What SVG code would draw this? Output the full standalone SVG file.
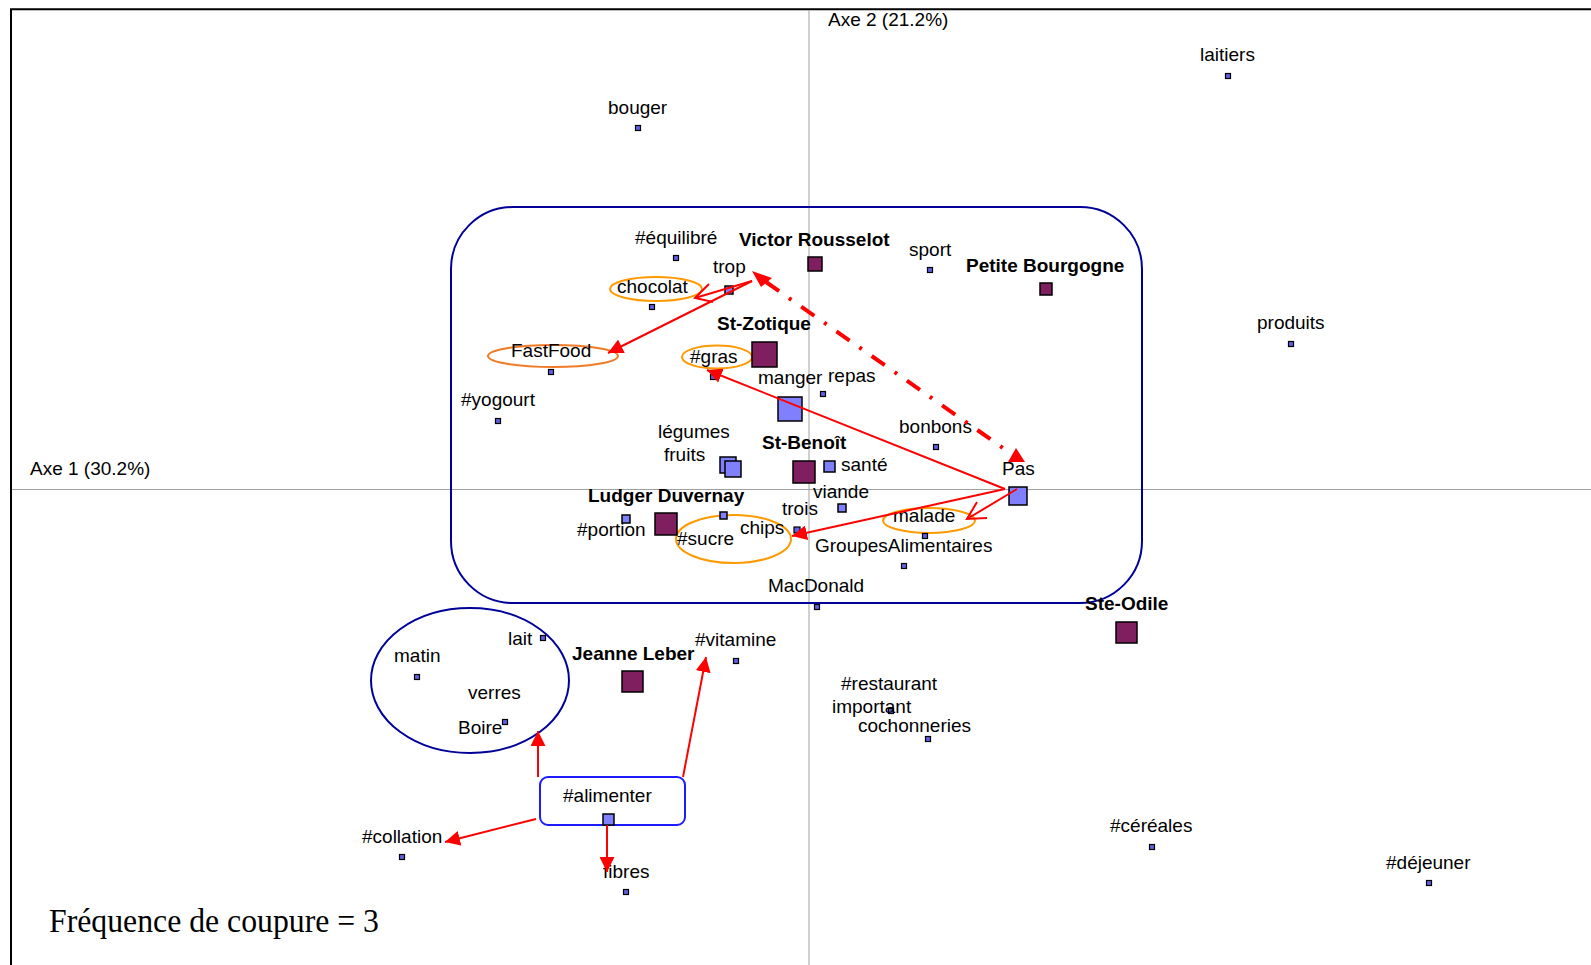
<svg xmlns="http://www.w3.org/2000/svg" width="1591" height="965" viewBox="0 0 1591 965">
<defs>
<style>
.lbl{font-family:"Liberation Sans",Arial,sans-serif;font-size:19px;fill:#000}
.b{font-weight:bold}
.dot{fill:#6060e0;stroke:#000;stroke-width:1.2}
.sq{fill:#8080ff;stroke:#000;stroke-width:1.5}
.pu{fill:#7f1f5f;stroke:#000;stroke-width:1.5}
.arr{stroke:#ff0000;stroke-width:2;fill:none}
.ov{fill:none;stroke:#ff9900;stroke-width:2}
.cl{fill:none;stroke:#000099;stroke-width:2}
.axis{stroke:#a0a0a0;stroke-width:1;fill:none}
</style>
<marker id="ah" markerUnits="userSpaceOnUse" markerWidth="16" markerHeight="15" refX="15" refY="7.5" orient="auto">
<path d="M0,0 L15,7.5 L0,15 z" fill="#ff0000"/>
</marker>
</defs>
<rect width="1591" height="965" fill="#fff"/>
<path d="M11,965 V9.3 H1591" fill="none" stroke="#000" stroke-width="2"/>
<g id="axes">
<line class="axis" x1="809" y1="10" x2="809" y2="965"/>
<line class="axis" x1="12" y1="489.5" x2="1591" y2="489.5"/>
<text class="lbl" x="828" y="26">Axe 2 (21.2%)</text>
<text class="lbl" x="30" y="475">Axe 1 (30.2%)</text>
</g>
<g id="clusters">
<rect id="cluster-main" class="cl" x="451" y="207" width="691" height="396" rx="62" ry="62"/>
<ellipse id="cluster-boire" class="cl" cx="470" cy="680.5" rx="99" ry="72.5"/>
<ellipse id="hl-chocolat" class="ov" cx="656" cy="289" rx="46" ry="12"/>
<ellipse id="hl-fastfood" class="ov" cx="553" cy="356" rx="65" ry="11" style="stroke:#f07a25"/>
<ellipse id="hl-gras" class="ov" cx="717" cy="357" rx="35" ry="11.5"/>
<ellipse id="hl-sucre" class="ov" cx="733.5" cy="539" rx="57.5" ry="24"/>
<ellipse id="hl-malade" class="ov" cx="929" cy="520.5" rx="46" ry="12.5"/>
</g>
<g id="nodes">
<g id="n-laitiers"><rect class="dot" x="1225.5" y="73.5" width="5" height="5"/><text class="lbl" x="1200" y="61">laitiers</text></g>
<g id="n-bouger"><rect class="dot" x="635.5" y="125.5" width="5" height="5"/><text class="lbl" x="608" y="114">bouger</text></g>
<g id="n-equilibre"><rect class="dot" x="673.5" y="255.5" width="5" height="5"/><text class="lbl" x="635" y="244">#équilibré</text></g>
<g id="n-victor"><rect class="pu" x="808" y="257" width="14" height="14"/><text class="lbl b" x="739" y="246">Victor Rousselot</text></g>
<g id="n-sport"><rect class="dot" x="927.5" y="267.5" width="5" height="5"/><text class="lbl" x="909" y="256">sport</text></g>
<g id="n-petite"><rect class="pu" x="1040" y="283" width="12" height="12"/><text class="lbl b" x="966" y="272">Petite Bourgogne</text></g>
<g id="n-trop"><rect class="sq" x="725" y="286" width="8" height="8"/><text class="lbl" x="713" y="273">trop</text></g>
<g id="n-chocolat"><rect class="dot" x="649.5" y="304.5" width="5" height="5"/><text class="lbl" x="617" y="293">chocolat</text></g>
<g id="n-produits"><rect class="dot" x="1288.5" y="341.5" width="5" height="5"/><text class="lbl" x="1257" y="329">produits</text></g>
<g id="n-stzotique"><rect class="pu" x="752" y="342" width="25" height="25"/><text class="lbl b" x="717" y="330">St-Zotique</text></g>
<g id="n-fastfood"><rect class="dot" x="548.5" y="369.5" width="5" height="5"/><text class="lbl" x="511" y="357">FastFood</text></g>
<g id="n-gras"><rect class="dot" x="710.5" y="374.5" width="5" height="5"/><text class="lbl" x="690" y="363">#gras</text></g>
<g id="n-manger"><rect class="sq" x="778" y="397" width="24" height="24"/><text class="lbl" x="758" y="384">manger</text></g>
<g id="n-repas"><rect class="dot" x="820.5" y="391.5" width="5" height="5"/><text class="lbl" x="828" y="382">repas</text></g>
<g id="n-yogourt"><rect class="dot" x="495.5" y="418.5" width="5" height="5"/><text class="lbl" x="461" y="406">#yogourt</text></g>
<g id="n-bonbons"><rect class="dot" x="933.5" y="444.5" width="5" height="5"/><text class="lbl" x="899" y="433">bonbons</text></g>
<g id="n-legumes"><rect class="sq" x="720" y="457" width="16" height="16"/><text class="lbl" x="658" y="438">légumes</text></g>
<g id="n-fruits"><rect class="sq" x="725" y="461" width="16" height="16"/><text class="lbl" x="664" y="461">fruits</text></g>
<g id="n-stbenoit"><rect class="pu" x="793" y="461" width="22" height="22"/><text class="lbl b" x="762" y="449">St-Benoît</text></g>
<g id="n-sante"><rect class="sq" x="824" y="461" width="11" height="11"/><text class="lbl" x="841" y="471">santé</text></g>
<g id="n-pas"><rect class="sq" x="1009" y="487" width="18" height="18"/><text class="lbl" x="1002" y="475">Pas</text></g>
<g id="n-viande"><rect class="sq" x="838" y="504" width="8" height="8"/><text class="lbl" x="813" y="498">viande</text></g>
<g id="n-ludger"><rect class="pu" x="655" y="513" width="22" height="22"/><text class="lbl b" x="588" y="502">Ludger Duvernay</text></g>
<g id="n-trois"><text class="lbl" x="782" y="515">trois</text></g>
<g id="n-malade"><rect class="dot" x="922.5" y="533.5" width="5" height="5"/><text class="lbl" x="893" y="522">malade</text></g>
<g id="n-chips"><rect class="dot" x="794" y="527" width="6" height="6"/><text class="lbl" x="740" y="534">chips</text></g>
<g id="n-portion"><rect class="sq" x="622" y="515" width="8" height="8"/><text class="lbl" x="577" y="536">#portion</text></g>
<g id="n-sucre"><rect class="sq" x="720" y="512" width="7" height="7"/><text class="lbl" x="677" y="545">#sucre</text></g>
<g id="n-groupes"><rect class="dot" x="901.5" y="563.5" width="5" height="5"/><text class="lbl" x="815" y="552">GroupesAlimentaires</text></g>
<g id="n-macdonald"><rect class="dot" x="814.5" y="604.5" width="5" height="5"/><text class="lbl" x="768" y="592">MacDonald</text></g>
<g id="n-steodile"><rect class="pu" x="1116" y="622" width="21" height="21"/><text class="lbl b" x="1085" y="610">Ste-Odile</text></g>
<g id="n-lait"><rect class="dot" x="540.5" y="635.5" width="5" height="5"/><text class="lbl" x="508" y="645">lait</text></g>
<g id="n-vitamine"><rect class="dot" x="733.5" y="658.5" width="5" height="5"/><text class="lbl" x="695" y="646">#vitamine</text></g>
<g id="n-jeanne"><rect class="pu" x="622" y="671" width="21" height="21"/><text class="lbl b" x="572" y="660">Jeanne Leber</text></g>
<g id="n-matin"><rect class="dot" x="414.5" y="674.5" width="5" height="5"/><text class="lbl" x="394" y="662">matin</text></g>
<g id="n-restaurant"><text class="lbl" x="841" y="690">#restaurant</text></g>
<g id="n-verres"><text class="lbl" x="468" y="699">verres</text></g>
<g id="n-important"><rect class="dot" x="888.5" y="708.5" width="5" height="5"/><text class="lbl" x="832" y="713">important</text></g>
<g id="n-cochonneries"><rect class="dot" x="925.5" y="736.5" width="5" height="5"/><text class="lbl" x="858" y="732">cochonneries</text></g>
<g id="n-boire"><rect class="dot" x="502.5" y="719.5" width="5" height="5"/><text class="lbl" x="458" y="734">Boire</text></g>
<g id="n-alimenter"><rect x="540" y="777" width="145" height="48" rx="8" ry="8" fill="none" stroke="#1c1cff" stroke-width="2"/><rect class="sq" x="603" y="814" width="11" height="11"/><text class="lbl" x="563" y="802">#alimenter</text></g>
<g id="n-cereales"><rect class="dot" x="1149.5" y="844.5" width="5" height="5"/><text class="lbl" x="1110" y="832">#céréales</text></g>
<g id="n-collation"><rect class="dot" x="399.5" y="854.5" width="5" height="5"/><text class="lbl" x="362" y="843">#collation</text></g>
<g id="n-dejeuner"><rect class="dot" x="1426.5" y="880.5" width="5" height="5"/><text class="lbl" x="1386" y="869">#déjeuner</text></g>
<g id="n-fibres"><rect class="dot" x="623.5" y="889.5" width="5" height="5"/><text class="lbl" x="603" y="878">fibres</text></g>
</g>
<g id="connectors">
<line class="arr" x1="752" y1="281" x2="608" y2="353" marker-end="url(#ah)"/>
<line class="arr" x1="752" y1="281" x2="695" y2="298"/>
<polyline class="arr" points="709,284 695,298 713,302"/>
<line x1="766" y1="282" x2="1003" y2="448" stroke="#ff0000" stroke-width="4" stroke-dasharray="16 12 3 12"/>
<polygon points="752,271 772,278 761,287" fill="#ff0000"/>
<polygon points="1016,448 1008,462 1025,462" fill="#ff0000"/>
<line class="arr" x1="1005" y1="489" x2="707" y2="370" marker-end="url(#ah)"/>
<line class="arr" x1="1005" y1="489" x2="792" y2="536" marker-end="url(#ah)"/>
<line class="arr" x1="1017" y1="489" x2="967" y2="519"/>
<polyline class="arr" points="977,502 967,519 987,518"/>
<line class="arr" x1="538" y1="777" x2="538" y2="731" marker-end="url(#ah)"/>
<line class="arr" x1="683" y1="777" x2="706" y2="657" marker-end="url(#ah)"/>
<line class="arr" x1="536" y1="819" x2="445" y2="842" marker-end="url(#ah)"/>
<line class="arr" x1="607" y1="825" x2="607" y2="872" marker-end="url(#ah)"/>
</g>
<text x="49" y="932" font-family="'Liberation Serif','Times New Roman',serif" font-size="34" textLength="330" lengthAdjust="spacingAndGlyphs" fill="#000">Fréquence de coupure = 3</text>
</svg>
